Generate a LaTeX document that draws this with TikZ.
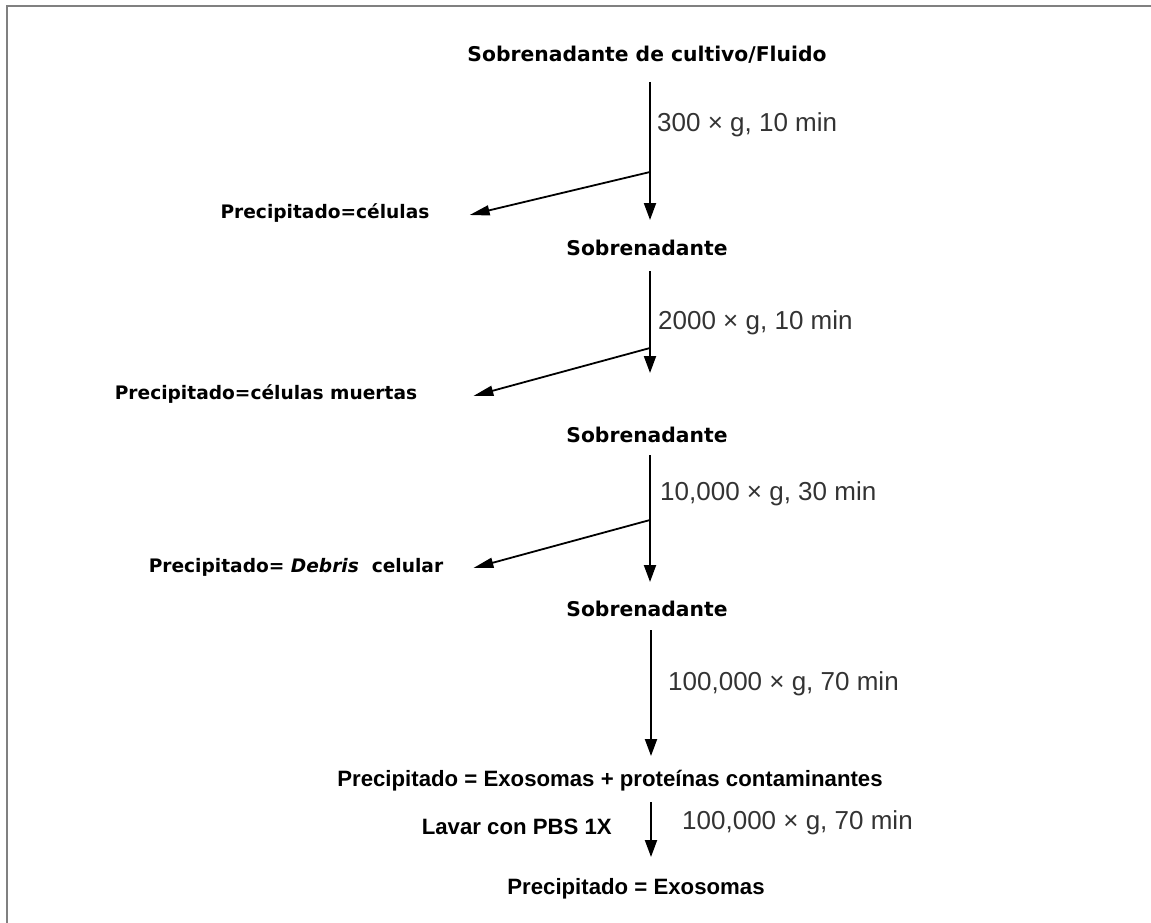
\documentclass[tikz,border=0pt]{standalone}
\usepackage{fontspec}
\setmainfont{Liberation Sans}
\newfontfamily\widefont{DejaVu Sans}
\usetikzlibrary{arrows.meta}
\tikzset{
  frame/.style={draw=black!50, line width=2pt},
  flow/.style={line width=2pt, -{Triangle[length=17pt,width=12pt]}},
  branch/.style={line width=1.8pt, -{Triangle[length=20pt,width=10pt]}},
  cond/.style={anchor=west, inner sep=0pt, text=black!80, font=\fontsize{26}{30}\selectfont},
  stage/.style={inner sep=0pt, font=\widefont\bfseries\fontsize{20.3}{24}\selectfont},
  pellet/.style={inner sep=0pt, font=\widefont\bfseries\fontsize{18.6}{22}\selectfont},
  final/.style={inner sep=0pt, font=\bfseries\fontsize{22.2}{26}\selectfont},
}
\begin{document}
\begin{tikzpicture}[x=1pt,y=-1pt]
\useasboundingbox (0,0) rectangle (1151,923);
\draw[frame] (7,923) -- (7,6) -- (1151,6);
% Stages down the middle
\node[stage] (src) at (647,55) {Sobrenadante de cultivo/Fluido};
\node[stage] (s1) at (647,248) {Sobrenadante};
\node[stage] (s2) at (647,435) {Sobrenadante};
\node[stage] (s3) at (647,609) {Sobrenadante};
\node[final] (p4) at (610,781) {Precipitado = Exosomas + proteínas contaminantes};
\node[final] (p5) at (636,889) {Precipitado = Exosomas};
\node[final, anchor=east] (wash) at (612,827) {Lavar con PBS 1X};
% Pellets on the left
\node[pellet] (p1) at (325,213) {Precipitado=células};
\node[pellet] (p2) at (266,394) {Precipitado=células muertas};
\node[pellet] (p3) at (296,567) {Precipitado= \textit{Debris}\ \ celular};
% Spin conditions
\node[cond] (c1) at (657,125) {300 × g, 10 min};
\node[cond] (c2) at (658,323) {2000 × g, 10 min};
\node[cond] (c3) at (660,494) {10,000 × g, 30 min};
\node[cond] (c4) at (668,684) {100,000 × g, 70 min};
\node[cond] (c5) at (682,823) {100,000 × g, 70 min};
% Arrows
\coordinate (t1) at (650,82);  \coordinate (h1) at (650,220);
\coordinate (t2) at (650,271); \coordinate (h2) at (650,373);
\coordinate (t3) at (650,455); \coordinate (h3) at (650,582);
\coordinate (t4) at (651,630); \coordinate (h4) at (651,756);
\coordinate (t5) at (651,802); \coordinate (h5) at (651,857);
\coordinate (j1) at (650,172);
\coordinate (j2) at (650,348);
\coordinate (j3) at (650,520);
\draw[flow] (t1) -- (h1);
\draw[flow] (t2) -- (h2);
\draw[flow] (t3) -- (h3);
\draw[flow] (t4) -- (h4);
\draw[flow] (t5) -- (h5);
\draw[branch] (j1) -- ([xshift=40pt,yshift=-2pt]p1.east);
\draw[branch] (j2) -- ([xshift=56pt,yshift=-2pt]p2.east);
\draw[branch] (j3) -- ([xshift=30pt,yshift=-1pt]p3.east);
\end{tikzpicture}
\end{document}
